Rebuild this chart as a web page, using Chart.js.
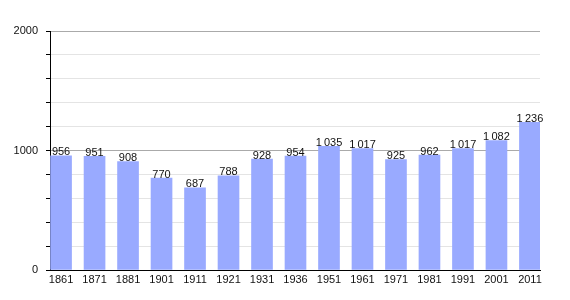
<!DOCTYPE html>
<html>
<head>
<meta charset="utf-8">
<script src="https://cdn.jsdelivr.net/npm/chart.js@4/dist/chart.umd.min.js"></script>
<style>
  html, body { margin: 0; padding: 0; background: #fff; }
  #wrap { width: 570px; height: 300px; }
</style>
</head>
<body>
<div id="wrap"><canvas id="popChart" width="570" height="300"></canvas></div>
<script>
// census years and population
const years = ['1861', '1871', '1881', '1901', '1911', '1921', '1931', '1936', '1951', '1961', '1971', '1981', '1991', '2001', '2011'];
const population = [956, 951, 908, 770, 687, 788, 928, 954, 1035, 1017, 925, 962, 1017, 1082, 1236];
const yLabels = [0, 1000, 2000];

const barColor = '#99aaff';
const fontFamily = '"Liberation Sans", Arial, sans-serif';

// french style thousands: "1 035"
function formatNum(n) {
    if (n < 1000) return String(n);
    const rest = String(n % 1000).padStart(3, '0');
    return Math.floor(n / 1000) + '\u202f' + rest;
}

// draws the value above each bar
const valueLabels = {
    id: 'valueLabels',
    afterDatasetsDraw(chart) {
        const ctx = chart.ctx;
        const meta = chart.getDatasetMeta(0);
        ctx.save();
        ctx.font = '11px ' + fontFamily;
        ctx.fillStyle = '#111';
        ctx.textAlign = 'center';
        ctx.textBaseline = 'bottom';
        meta.data.forEach((bar, i) => {
            ctx.fillText(formatNum(population[i]), bar.x, bar.y + 2);
        });
        ctx.restore();
    }
};

new Chart(document.getElementById('popChart'), {
    type: 'bar',
    data: {
        datasets: [{
            data: population.map((v, i) => ({ x: i, y: v })),
            backgroundColor: barColor,
            borderWidth: 0,
            barThickness: 21
        }]
    },
    options: {
        responsive: false,
        animation: false,
        layout: { padding: { top: 31, right: 30, left: 0, bottom: 0 } },
        plugins: {
            legend: { display: false },
            tooltip: { enabled: false }
        },
        scales: {
            x: {
                type: 'linear',
                offset: false,
                min: -0.33,
                max: 14.3,
                afterBuildTicks: scale => {
                    scale.ticks = years.map((_, i) => ({ value: i }));
                },
                afterFit: scale => { scale.height = 30; },
                grid: { display: false, drawTicks: false, offset: false },
                border: { display: true, color: '#000', width: 1 },
                ticks: {
                    padding: 3,
                    maxRotation: 0,
                    autoSkip: false,
                    color: '#111',
                    font: { family: fontFamily, size: 11 },
                    callback: value => years[value]
                }
            },
            y: {
                min: 0,
                max: 2000,
                afterFit: scale => { scale.width = 50; },
                ticks: {
                    stepSize: 200,
                    padding: 8,
                    color: '#111',
                    font: { family: fontFamily, size: 11 },
                    callback: value => yLabels.includes(value) ? String(value) : ''
                },
                grid: {
                    tickLength: 4,
                    tickColor: '#000',
                    color: ctx => (ctx.tick && ctx.tick.value % 1000 === 0) ? '#aaaaaa' : '#e4e4e4'
                },
                border: { display: true, color: '#000', width: 1 }
            }
        }
    },
    plugins: [valueLabels]
});
</script>
</body>
</html>
